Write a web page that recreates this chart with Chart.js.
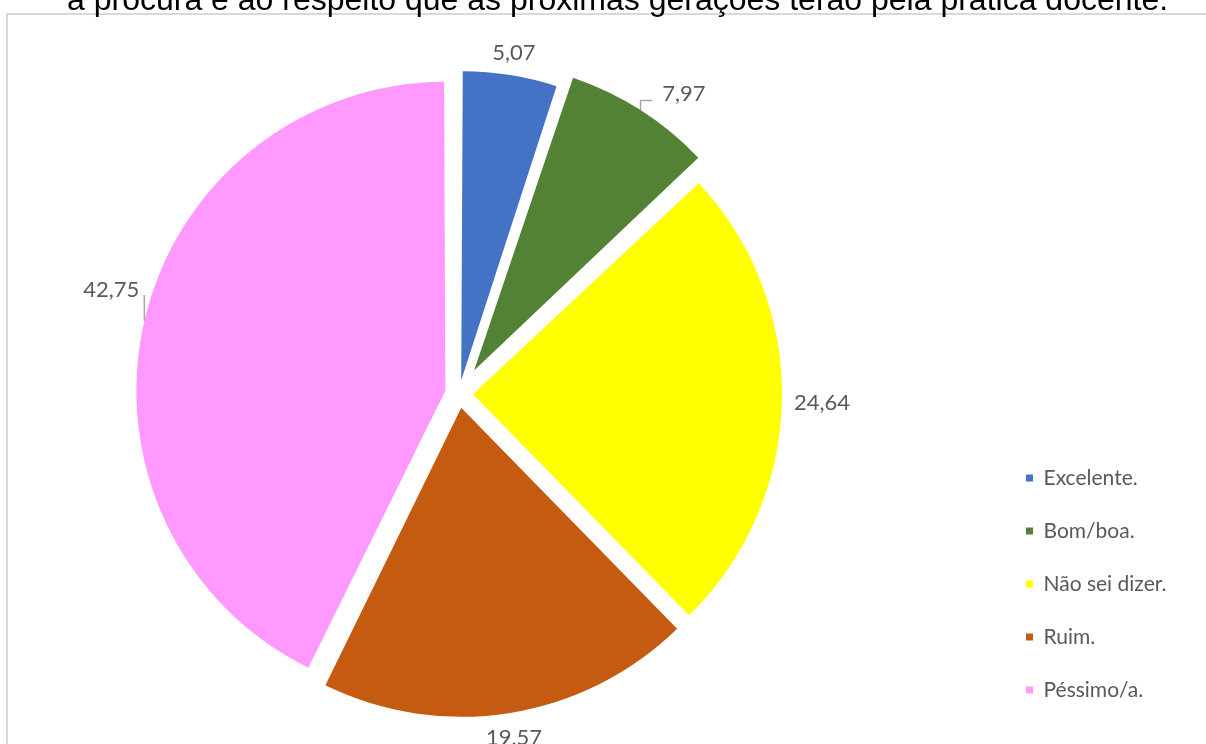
<!DOCTYPE html>
<html lang="pt-BR">
<head>
<meta charset="UTF-8">
<title>Prática docente</title>
<script src="https://cdn.jsdelivr.net/npm/chart.js"></script>
<style>
    html, body {
        margin: 0;
        padding: 0;
        background: #ffffff;
        overflow: hidden;
    }
    body {
        position: relative;
        width: 1206px;
        height: 744px;
    }
    .titulo {
        position: absolute;
        left: 67px;
        top: -17px;
        font-family: 'Liberation Sans', Arial, sans-serif;
        font-size: 32px;
        line-height: 32px;
        color: #000000;
        white-space: nowrap;
        z-index: 2;
    }
    .moldura {
        position: absolute;
        left: 6px;
        top: 13px;
        width: 1300px;
        height: 800px;
        border-left: 2px solid #d9d9d9;
        border-top: 2px solid #d9d9d9;
    }
    .grafico {
        position: absolute;
        left: -80px;
        top: 0;
        width: 1286px;
        height: 744px;
    }
</style>
</head>
<body>
<div class="titulo">a procura e ao respeito que as próximas gerações terão pela prática docente.</div>
<div class="moldura"></div>
<div class="grafico"><canvas id="pizza"></canvas></div>

<script>
// respostas (%)
const categorias = ['Excelente.', 'Bom/boa.', 'Não sei dizer.', 'Ruim.', 'Péssimo/a.'];
const valores = [5.07, 7.97, 24.64, 19.57, 42.75];
const cores = ['#4472C4', '#548235', '#FFFF00', '#C55A11', '#FF99FF'];

// afastamento de cada fatia em px e ajustes dos rótulos com linha de chamada
const explosao = [14, 28, 14, 14, 14];
const deslocar = { 1: [27, 9], 4: [7, -23] };
const raio = 309;

const formata = v => v.toFixed(2).replace('.', ',');

// legenda: a caixa começa em x=1074 do canvas, então a margem direita depende do texto mais largo
// (o Chart.js soma mais 10px à largura da legenda vertical)
const fonteLegenda = 21, caixa = 7, espaco = 32;
const medida = document.createElement('canvas').getContext('2d');
medida.font = fonteLegenda + 'px Lato';
const maiorTexto = Math.max(...categorias.map(c => medida.measureText(c).width));
const larguraLegenda = espaco + caixa + fonteLegenda / 2 + maiorTexto + 10;
const margemDireita = 1286 - 1074 - larguraLegenda;

// o Chart.js aumenta o raio da fatia afastada; corrige para manter todas iguais
const raioFixo = {
    id: 'raioFixo',
    afterDatasetUpdate(chart) {
        const meta = chart.getDatasetMeta(0);
        meta.data.forEach((arc, i) => {
            const circ = arc.endAngle - arc.startAngle;
            const fix = 1 - Math.sin(Math.min(Math.PI, circ));
            arc.outerRadius = raio - explosao[i] * fix;
        });
    }
};

const rotulos = {
    id: 'rotulos',
    afterDatasetsDraw(chart) {
        const ctx = chart.ctx;
        const meta = chart.getDatasetMeta(0);
        const tam = 22;
        const gap = 12;
        ctx.save();
        ctx.font = tam + 'px Lato';
        ctx.fillStyle = '#595959';
        ctx.strokeStyle = '#a6a6a6';
        ctx.lineWidth = 1.5;
        ctx.textAlign = 'center';
        ctx.textBaseline = 'alphabetic';
        meta.data.forEach((arc, i) => {
            const meio = (arc.startAngle + arc.endAngle) / 2;
            const dx = Math.cos(meio), dy = Math.sin(meio);
            const ex = arc.x + dx * (raio + explosao[i]);
            const ey = arc.y + dy * (raio + explosao[i]);
            const texto = formata(valores[i]);
            const w = ctx.measureText(texto).width;
            const h = tam * 0.72;
            const ext = Math.abs(dx) * w / 2 + Math.abs(dy) * h / 2;
            const d = deslocar[i];
            const lx = ex + dx * (gap + ext) + (d ? d[0] : 0);
            const ly = ey + dy * (gap + ext) + (d ? d[1] : 0);
            if (d) {
                const base = ly + 7;
                ctx.beginPath();
                ctx.moveTo(ex, ey);
                ctx.lineTo(ex, base);
                const lado = lx > ex ? lx - w / 2 - 10 : lx + w / 2 + 4;
                if ((lx > ex && lado > ex) || (lx < ex && lado < ex)) ctx.lineTo(lado, base);
                ctx.stroke();
            }
            ctx.fillText(texto, lx, ly + h / 2);
        });
        ctx.restore();
    }
};

new Chart(document.getElementById('pizza'), {
    type: 'pie',
    data: {
        labels: categorias,
        datasets: [{
            data: valores,
            backgroundColor: cores,
            borderWidth: 0,
            radius: raio,
            offset: explosao.map(t => t * 4)
        }]
    },
    options: {
        responsive: true,
        maintainAspectRatio: false,
        animation: false,
        events: [],
        layout: {
            padding: { left: 4, right: margemDireita, top: 55.5, bottom: 11.5 }
        },
        plugins: {
            tooltip: { enabled: false },
            legend: {
                position: 'right',
                align: 'end',
                labels: {
                    boxWidth: caixa,
                    boxHeight: caixa,
                    padding: espaco,
                    color: '#595959',
                    font: { family: 'Lato', size: fonteLegenda }
                }
            }
        }
    },
    plugins: [raioFixo, rotulos]
});
</script>
</body>
</html>
